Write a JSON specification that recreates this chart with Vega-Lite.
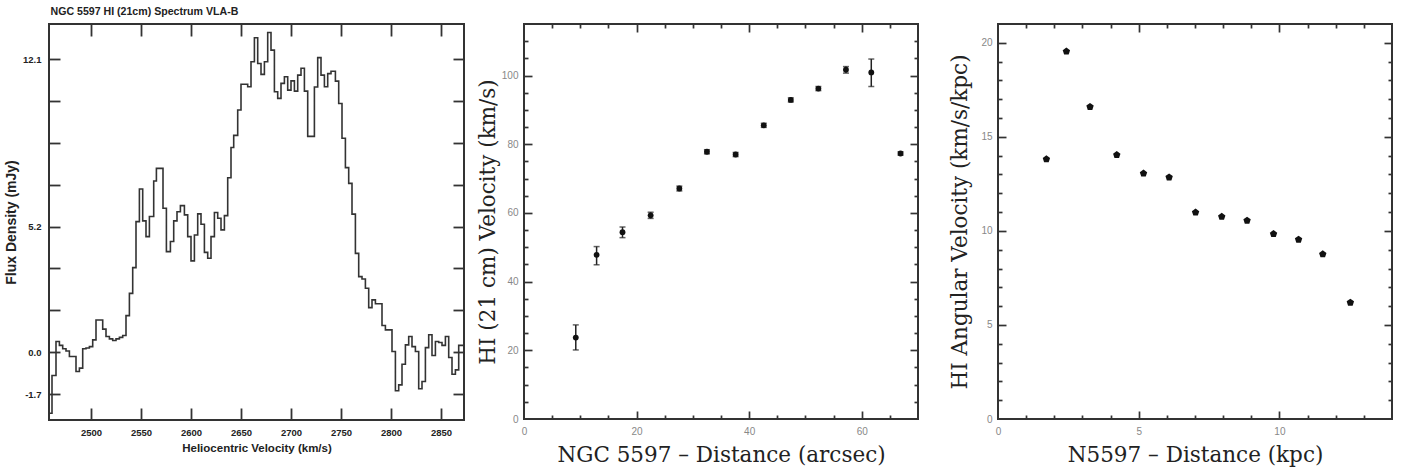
{
  "$schema": "https://vega.github.io/schema/vega-lite/v6.json",
  "padding": {"left": 3, "top": 6, "right": 0, "bottom": 0},
  "background": "white",
  "title": {"text": "NGC 5597 HI (21cm) Spectrum VLA-B", "anchor": "start", "dx": 47, "font": "Liberation Sans", "fontSize": 10.6, "fontWeight": "bold", "color": "#222", "offset": 5},
  "config": {
    "view": {"stroke": "#333", "strokeWidth": 2},
    "axis": {"grid": false, "domain": false, "minExtent": 0, "tickColor": "#333", "tickWidth": 1.7, "labelFont": "Liberation Sans", "labelFontSize": 10, "labelColor": "#888", "labelFlush": false, "titleFont": "DejaVu Serif", "titleFontSize": 21.5, "titleFontWeight": "normal", "titleColor": "#222"}
  },
  "spacing": 7,
  "hconcat": [
    {
      "width": 415,
      "height": 396,
      "data": {"values": [
        {"v": 2458.0, "f": -2.52}, {"v": 2461.0, "f": -0.96}, {"v": 2465.0, "f": 0.44}, {"v": 2468.4, "f": 0.28},
        {"v": 2471.7, "f": 0.14}, {"v": 2475.0, "f": 0.05}, {"v": 2478.4, "f": -0.18}, {"v": 2485.0, "f": -0.8},
        {"v": 2488.4, "f": -0.66}, {"v": 2491.7, "f": 0.14}, {"v": 2495.0, "f": 0.17}, {"v": 2498.4, "f": 0.23},
        {"v": 2501.7, "f": 0.51}, {"v": 2505.0, "f": 1.33}, {"v": 2511.7, "f": 0.95}, {"v": 2515.0, "f": 0.65},
        {"v": 2518.4, "f": 0.55}, {"v": 2521.7, "f": 0.48}, {"v": 2525.0, "f": 0.55}, {"v": 2528.4, "f": 0.61},
        {"v": 2531.7, "f": 0.69}, {"v": 2535.0, "f": 1.51}, {"v": 2538.4, "f": 2.43}, {"v": 2541.7, "f": 3.49},
        {"v": 2545.0, "f": 5.39}, {"v": 2548.4, "f": 6.74}, {"v": 2551.7, "f": 5.42}, {"v": 2555.0, "f": 4.77},
        {"v": 2558.4, "f": 5.6}, {"v": 2562.7, "f": 7.07}, {"v": 2565.4, "f": 7.59}, {"v": 2572.0, "f": 5.94},
        {"v": 2575.4, "f": 4.15}, {"v": 2579.4, "f": 4.57}, {"v": 2582.7, "f": 5.42}, {"v": 2586.0, "f": 5.8},
        {"v": 2589.4, "f": 6.05}, {"v": 2593.4, "f": 5.67}, {"v": 2596.7, "f": 4.77}, {"v": 2600.0, "f": 3.77},
        {"v": 2603.4, "f": 4.84}, {"v": 2606.7, "f": 5.71}, {"v": 2610.0, "f": 5.28}, {"v": 2613.4, "f": 4.12},
        {"v": 2616.7, "f": 3.88}, {"v": 2620.0, "f": 4.77}, {"v": 2623.4, "f": 5.77}, {"v": 2626.7, "f": 5.53},
        {"v": 2630.0, "f": 5.05}, {"v": 2633.4, "f": 5.64}, {"v": 2636.7, "f": 7.2}, {"v": 2640.0, "f": 8.45},
        {"v": 2642.7, "f": 8.95}, {"v": 2646.7, "f": 10.0}, {"v": 2650.0, "f": 11.06}, {"v": 2656.7, "f": 10.96},
        {"v": 2660.0, "f": 11.99}, {"v": 2663.4, "f": 12.98}, {"v": 2666.7, "f": 11.92}, {"v": 2670.0, "f": 11.47},
        {"v": 2673.4, "f": 11.99}, {"v": 2676.7, "f": 13.2}, {"v": 2680.0, "f": 12.47}, {"v": 2683.4, "f": 10.75},
        {"v": 2686.7, "f": 10.48}, {"v": 2690.0, "f": 11.1}, {"v": 2693.4, "f": 11.37}, {"v": 2696.7, "f": 10.82},
        {"v": 2700.0, "f": 11.2}, {"v": 2703.4, "f": 10.78}, {"v": 2706.7, "f": 11.44}, {"v": 2710.0, "f": 11.72},
        {"v": 2713.4, "f": 10.78}, {"v": 2716.7, "f": 8.91}, {"v": 2723.4, "f": 10.95}, {"v": 2726.7, "f": 12.16},
        {"v": 2730.0, "f": 11.44}, {"v": 2733.4, "f": 10.96}, {"v": 2736.7, "f": 11.5}, {"v": 2740.0, "f": 11.6},
        {"v": 2744.4, "f": 11.19}, {"v": 2747.7, "f": 10.27}, {"v": 2751.0, "f": 8.83}, {"v": 2754.4, "f": 7.62},
        {"v": 2757.7, "f": 6.97}, {"v": 2761.0, "f": 5.7}, {"v": 2764.4, "f": 4.08}, {"v": 2767.7, "f": 3.12},
        {"v": 2771.0, "f": 3.02}, {"v": 2774.4, "f": 2.64}, {"v": 2777.7, "f": 1.84}, {"v": 2781.0, "f": 2.16},
        {"v": 2784.4, "f": 2.0}, {"v": 2791.0, "f": 1.1}, {"v": 2794.4, "f": 0.92}, {"v": 2801.0, "f": 0.03},
        {"v": 2804.4, "f": -1.59}, {"v": 2807.7, "f": -1.35}, {"v": 2811.0, "f": -0.5}, {"v": 2814.4, "f": 0.3},
        {"v": 2817.7, "f": 0.65}, {"v": 2821.0, "f": 0.23}, {"v": 2824.4, "f": 0.03}, {"v": 2827.7, "f": -1.51},
        {"v": 2831.0, "f": -1.21}, {"v": 2834.4, "f": 0.19}, {"v": 2837.7, "f": 0.72}, {"v": 2841.0, "f": -0.14},
        {"v": 2844.4, "f": 0.44}, {"v": 2847.7, "f": 0.4}, {"v": 2851.0, "f": 0.28}, {"v": 2854.4, "f": 0.65},
        {"v": 2857.7, "f": -0.22}, {"v": 2861.0, "f": -0.91}, {"v": 2864.4, "f": -0.73}, {"v": 2867.7, "f": 0.28},
        {"v": 2873.0, "f": 0.28}
      ]},
      "resolve": {"scale": {"x": "independent", "y": "independent"}},
      "layer": [
        {
          "mark": {"type": "line", "interpolate": "step-after", "color": "#333", "strokeWidth": 1.6},
          "encoding": {
            "x": {"field": "v", "type": "quantitative", "scale": {"domain": [2458, 2873], "nice": false, "zero": false},
              "axis": {"orient": "bottom", "values": [2500, 2550, 2600, 2650, 2700, 2750, 2800, 2850], "format": "d", "ticks": false, "labelPadding": 7, "labelFont": "Liberation Sans", "labelFontWeight": "bold", "labelFontSize": 9.5, "labelColor": "#222", "title": "Heliocentric Velocity (km/s)", "titleFont": "Liberation Sans", "titleFontWeight": "bold", "titleFontSize": 11.5, "titlePadding": 6}},
            "y": {"field": "f", "type": "quantitative", "scale": {"domain": [-2.8, 13.55], "nice": false, "zero": false},
              "axis": {"orient": "left", "values": [-1.7286, 0, 5.1857, 12.1], "labelExpr": "datum.value < 0 ? '-1.7' : format(datum.value, '.1f')", "ticks": false, "labelPadding": 8, "labelFont": "Liberation Sans", "labelFontWeight": "bold", "labelFontSize": 9.5, "labelColor": "#222", "title": "Flux Density (mJy)", "titleFont": "Liberation Sans", "titleFontWeight": "bold", "titleFontSize": 14, "titlePadding": 4}}
          }
        },
        {
          "mark": {"type": "point", "opacity": 0},
          "encoding": {
            "x": {"field": "v", "type": "quantitative", "scale": {"domain": [2458, 2873], "nice": false, "zero": false}, "axis": {"orient": "bottom", "offset": -12, "values": [2500, 2550, 2600, 2650, 2700, 2750, 2800, 2850], "labels": false, "ticks": true, "tickSize": 12, "tickWidth": 1.8, "title": null}},
            "y": {"field": "f", "type": "quantitative", "scale": {"domain": [-2.8, 13.55], "nice": false, "zero": false}, "axis": {"orient": "left", "offset": -11, "values": [-1.7286, 0, 1.7286, 3.4571, 5.1857, 6.9143, 8.6429, 10.3714, 12.1], "labels": false, "ticks": true, "tickSize": 11, "tickWidth": 1.8, "title": null}}
          }
        },
        {
          "mark": {"type": "point", "opacity": 0},
          "encoding": {
            "x": {"field": "v", "type": "quantitative", "scale": {"domain": [2458, 2873], "nice": false, "zero": false}, "axis": {"orient": "top", "offset": -12, "values": [2500, 2550, 2600, 2650, 2700, 2750, 2800, 2850], "labels": false, "ticks": true, "tickSize": 12, "tickWidth": 1.8, "title": null}},
            "y": {"field": "f", "type": "quantitative", "scale": {"domain": [-2.8, 13.55], "nice": false, "zero": false}, "axis": {"orient": "right", "offset": -11, "values": [-1.7286, 0, 1.7286, 3.4571, 5.1857, 6.9143, 8.6429, 10.3714, 12.1], "labels": false, "ticks": true, "tickSize": 11, "tickWidth": 1.8, "title": null}}
          }
        }
      ]
    },
    {
      "spacing": 28,
      "hconcat": [
        {
          "width": 394,
          "height": 395,
          "data": {"values": [
            {"d": 9.2, "v": 23.7, "lo": 20.1, "hi": 27.4},
            {"d": 12.9, "v": 47.8, "lo": 44.9, "hi": 50.2},
            {"d": 17.5, "v": 54.4, "lo": 52.8, "hi": 55.9},
            {"d": 22.5, "v": 59.3, "lo": 58.4, "hi": 60.2},
            {"d": 27.6, "v": 67.1, "lo": 66.4, "hi": 67.8},
            {"d": 32.5, "v": 77.8, "lo": 77.2, "hi": 78.4},
            {"d": 37.6, "v": 77.0, "lo": 76.4, "hi": 77.6},
            {"d": 42.6, "v": 85.5, "lo": 84.9, "hi": 86.1},
            {"d": 47.4, "v": 92.9, "lo": 92.3, "hi": 93.5},
            {"d": 52.3, "v": 96.2, "lo": 95.6, "hi": 96.8},
            {"d": 57.2, "v": 101.7, "lo": 100.7, "hi": 102.6},
            {"d": 61.7, "v": 100.9, "lo": 96.8, "hi": 104.8},
            {"d": 66.9, "v": 77.3, "lo": 76.8, "hi": 77.8}
          ]},
          "resolve": {"scale": {"x": "independent", "y": "independent"}},
          "layer": [
            {
              "mark": {"type": "errorbar", "ticks": {"size": 6, "thickness": 1.5}, "color": "#222", "thickness": 1.5},
              "encoding": {
                "x": {"field": "d", "type": "quantitative", "scale": {"domain": [0, 70], "nice": false, "zero": false}, "axis": null},
                "y": {"field": "lo", "type": "quantitative", "scale": {"domain": [0, 115], "nice": false, "zero": false}, "axis": null},
                "y2": {"field": "hi"}
              }
            },
            {
              "mark": {"type": "point", "shape": "circle", "filled": true, "size": 34, "color": "#111", "opacity": 1},
              "encoding": {
                "x": {"field": "d", "type": "quantitative", "scale": {"domain": [0, 70], "nice": false, "zero": false}, "axis": {"orient": "bottom", "values": [0, 20, 40, 60], "ticks": false, "labelPadding": 7, "title": "NGC 5597 – Distance (arcsec)", "titlePadding": 8}},
                "y": {"field": "v", "type": "quantitative", "scale": {"domain": [0, 115], "nice": false, "zero": false}, "axis": {"orient": "left", "values": [0, 20, 40, 60, 80, 100], "ticks": false, "labelPadding": 6, "title": "HI (21 cm) Velocity (km/s)", "titlePadding": 2}}
              }
            },
            {
              "mark": {"type": "point", "opacity": 0},
              "encoding": {
                "x": {"field": "d", "type": "quantitative", "scale": {"domain": [0, 70], "nice": false, "zero": false}, "axis": {"orient": "bottom", "offset": -8, "values": [20, 40, 60], "labels": false, "ticks": true, "tickSize": 8, "title": null}},
                "y": {"field": "v", "type": "quantitative", "scale": {"domain": [0, 115], "nice": false, "zero": false}, "axis": {"orient": "left", "offset": -8, "values": [20, 40, 60, 80, 100], "labels": false, "ticks": true, "tickSize": 8, "title": null}}
              }
            },
            {
              "mark": {"type": "point", "opacity": 0},
              "encoding": {
                "x": {"field": "d", "type": "quantitative", "scale": {"domain": [0, 70], "nice": false, "zero": false}, "axis": {"orient": "top", "offset": -8, "values": [20, 40, 60], "labels": false, "ticks": true, "tickSize": 8, "title": null}},
                "y": {"field": "v", "type": "quantitative", "scale": {"domain": [0, 115], "nice": false, "zero": false}, "axis": {"orient": "right", "offset": -8, "values": [20, 40, 60, 80, 100], "labels": false, "ticks": true, "tickSize": 8, "title": null}}
              }
            },
            {
              "mark": {"type": "point", "opacity": 0},
              "encoding": {
                "x": {"field": "d", "type": "quantitative", "scale": {"domain": [0, 70], "nice": false, "zero": false}, "axis": {"orient": "bottom", "offset": -4, "values": [5, 10, 15, 25, 30, 35, 45, 50, 55, 65], "labels": false, "ticks": true, "tickSize": 4, "title": null}},
                "y": {"field": "v", "type": "quantitative", "scale": {"domain": [0, 115], "nice": false, "zero": false}, "axis": {"orient": "left", "offset": -4, "values": [5, 10, 15, 25, 30, 35, 45, 50, 55, 65, 70, 75, 85, 90, 95, 105, 110], "labels": false, "ticks": true, "tickSize": 4, "title": null}}
              }
            },
            {
              "mark": {"type": "point", "opacity": 0},
              "encoding": {
                "x": {"field": "d", "type": "quantitative", "scale": {"domain": [0, 70], "nice": false, "zero": false}, "axis": {"orient": "top", "offset": -4, "values": [5, 10, 15, 25, 30, 35, 45, 50, 55, 65], "labels": false, "ticks": true, "tickSize": 4, "title": null}},
                "y": {"field": "v", "type": "quantitative", "scale": {"domain": [0, 115], "nice": false, "zero": false}, "axis": {"orient": "right", "offset": -4, "values": [5, 10, 15, 25, 30, 35, 45, 50, 55, 65, 70, 75, 85, 90, 95, 105, 110], "labels": false, "ticks": true, "tickSize": 4, "title": null}}
              }
            }
          ]
        },
        {
          "width": 394,
          "height": 395,
          "data": {"values": [
            {"r": 1.72, "w": 13.81}, {"r": 2.43, "w": 19.54}, {"r": 3.27, "w": 16.6}, {"r": 4.22, "w": 14.04},
            {"r": 5.17, "w": 13.06}, {"r": 6.08, "w": 12.85}, {"r": 7.02, "w": 10.98}, {"r": 7.95, "w": 10.76},
            {"r": 8.85, "w": 10.55}, {"r": 9.79, "w": 9.84}, {"r": 10.68, "w": 9.54}, {"r": 11.54, "w": 8.76},
            {"r": 12.52, "w": 6.19}
          ]},
          "resolve": {"scale": {"x": "independent", "y": "independent"}},
          "layer": [
            {
              "mark": {"type": "point", "shape": "M0,-1L0.951,-0.309L0.588,0.809L-0.588,0.809L-0.951,-0.309Z", "filled": true, "size": 60, "color": "#111", "opacity": 1},
              "encoding": {
                "x": {"field": "r", "type": "quantitative", "scale": {"domain": [0, 14], "nice": false, "zero": false}, "axis": {"orient": "bottom", "values": [0, 5, 10], "ticks": false, "labelPadding": 7, "title": "N5597 – Distance (kpc)", "titlePadding": 8}},
                "y": {"field": "w", "type": "quantitative", "scale": {"domain": [0, 21], "nice": false, "zero": false}, "axis": {"orient": "left", "values": [0, 5, 10, 15, 20], "ticks": false, "labelPadding": 6, "title": "HI Angular Velocity (km/s/kpc)", "titlePadding": 9}}
              }
            },
            {
              "mark": {"type": "point", "opacity": 0},
              "encoding": {
                "x": {"field": "r", "type": "quantitative", "scale": {"domain": [0, 14], "nice": false, "zero": false}, "axis": {"orient": "bottom", "offset": -8, "values": [5, 10], "labels": false, "ticks": true, "tickSize": 8, "title": null}},
                "y": {"field": "w", "type": "quantitative", "scale": {"domain": [0, 21], "nice": false, "zero": false}, "axis": {"orient": "left", "offset": -8, "values": [5, 10, 15, 20], "labels": false, "ticks": true, "tickSize": 8, "title": null}}
              }
            },
            {
              "mark": {"type": "point", "opacity": 0},
              "encoding": {
                "x": {"field": "r", "type": "quantitative", "scale": {"domain": [0, 14], "nice": false, "zero": false}, "axis": {"orient": "top", "offset": -8, "values": [5, 10], "labels": false, "ticks": true, "tickSize": 8, "title": null}},
                "y": {"field": "w", "type": "quantitative", "scale": {"domain": [0, 21], "nice": false, "zero": false}, "axis": {"orient": "right", "offset": -8, "values": [5, 10, 15, 20], "labels": false, "ticks": true, "tickSize": 8, "title": null}}
              }
            },
            {
              "mark": {"type": "point", "opacity": 0},
              "encoding": {
                "x": {"field": "r", "type": "quantitative", "scale": {"domain": [0, 14], "nice": false, "zero": false}, "axis": {"orient": "bottom", "offset": -4, "values": [1, 2, 3, 4, 6, 7, 8, 9, 11, 12, 13], "labels": false, "ticks": true, "tickSize": 4, "title": null}},
                "y": {"field": "w", "type": "quantitative", "scale": {"domain": [0, 21], "nice": false, "zero": false}, "axis": {"orient": "left", "offset": -4, "values": [1, 2, 3, 4, 6, 7, 8, 9, 11, 12, 13, 14, 16, 17, 18, 19], "labels": false, "ticks": true, "tickSize": 4, "title": null}}
              }
            },
            {
              "mark": {"type": "point", "opacity": 0},
              "encoding": {
                "x": {"field": "r", "type": "quantitative", "scale": {"domain": [0, 14], "nice": false, "zero": false}, "axis": {"orient": "top", "offset": -4, "values": [1, 2, 3, 4, 6, 7, 8, 9, 11, 12, 13], "labels": false, "ticks": true, "tickSize": 4, "title": null}},
                "y": {"field": "w", "type": "quantitative", "scale": {"domain": [0, 21], "nice": false, "zero": false}, "axis": {"orient": "right", "offset": -4, "values": [1, 2, 3, 4, 6, 7, 8, 9, 11, 12, 13, 14, 16, 17, 18, 19], "labels": false, "ticks": true, "tickSize": 4, "title": null}}
              }
            }
          ]
        }
      ]
    }
  ]
}
